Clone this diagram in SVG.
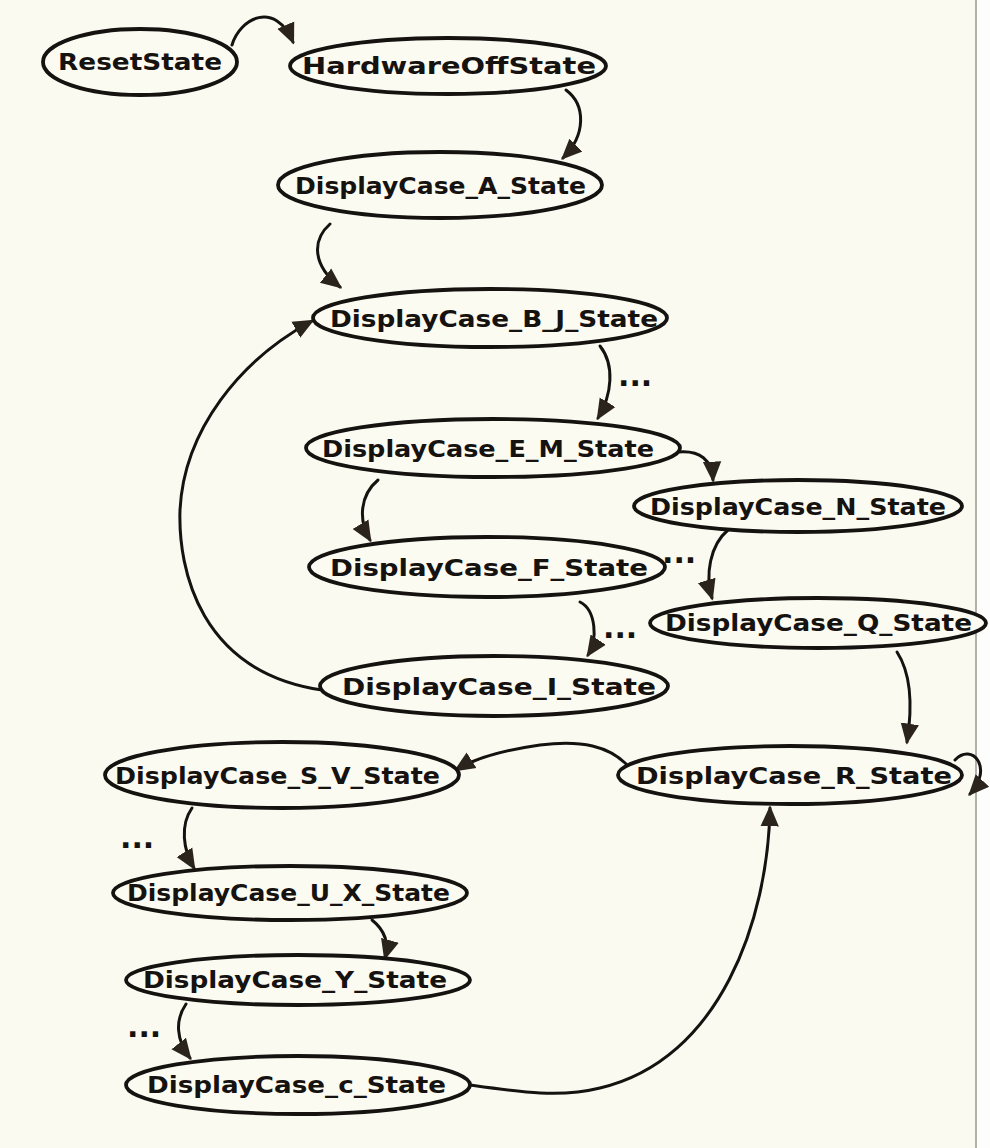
<svg xmlns="http://www.w3.org/2000/svg" width="990" height="1148" viewBox="0 0 990 1148">
<defs>
<style>
.n ellipse{fill:#fcfbf2;stroke:#151210;stroke-width:3.8}
.n text{font-family:"DejaVu Sans",sans-serif;font-weight:bold;font-size:23px;fill:#151210}
.e path{fill:none;stroke:#151210;stroke-width:3;stroke-linecap:round}
.dots{font-family:"DejaVu Sans",sans-serif;font-weight:bold;font-size:30px;fill:#151210}
</style>
<marker id="ah" viewBox="0 0 16 16" refX="14" refY="8" markerWidth="21" markerHeight="21" markerUnits="userSpaceOnUse" orient="auto">
<path d="M0,1 L16,8 L0,15 Z" fill="#2a241c"/>
</marker>
</defs>
<rect width="990" height="1148" fill="#fbfaf1"/>
<rect x="976" y="0" width="14" height="1148" fill="#fdfdfb"/>
<line x1="976" y1="0" x2="976" y2="1148" stroke="#9a978e" stroke-width="1.5"/>

<g class="e" id="connectors">
<path d="M232 45 C240 18 275 0 293 42" marker-end="url(#ah)"/>
<path d="M566 90 C586 105 586 135 563 158" marker-end="url(#ah)"/>
<path d="M330 224 C312 240 312 265 340 287" marker-end="url(#ah)"/>
<path d="M600 346 C615 365 612 395 598 418" marker-end="url(#ah)"/>
<path d="M678 452 C700 450 712 460 713 480" marker-end="url(#ah)"/>
<path d="M378 480 C360 495 358 520 370 540" marker-end="url(#ah)"/>
<path d="M728 530 C710 545 705 575 712 598" marker-end="url(#ah)"/>
<path d="M580 602 C596 610 598 640 588 655" marker-end="url(#ah)"/>
<path d="M322 690 C200 672 178 570 180 510 C184 430 240 360 312 321" marker-end="url(#ah)"/>
<path d="M897 652 C912 675 912 710 907 742" marker-end="url(#ah)"/>
<path d="M955 760 C972 742 994 768 970 794" marker-end="url(#ah)"/>
<path d="M630 768 C610 745 580 740 540 745 C505 750 475 758 456 770" marker-end="url(#ah)"/>
<path d="M192 808 C180 825 183 850 194 868" marker-end="url(#ah)"/>
<path d="M372 920 C382 928 390 940 385 958" marker-end="url(#ah)"/>
<path d="M186 1004 C175 1020 176 1040 190 1058" marker-end="url(#ah)"/>
<path d="M470 1085 C520 1092 560 1098 600 1088 C720 1060 768 920 770 808" marker-end="url(#ah)"/>
</g>

<g id="dots">
<text class="dots" x="618" y="386">...</text>
<text class="dots" x="662" y="563">...</text>
<text class="dots" x="603" y="638">...</text>
<text class="dots" x="120" y="848">...</text>
<text class="dots" x="127" y="1037">...</text>
</g>

<g class="n" id="ResetState"><ellipse cx="140" cy="62" rx="97" ry="33"/><text x="58" y="70" textLength="164" lengthAdjust="spacingAndGlyphs">ResetState</text></g>
<g class="n" id="HardwareOffState"><ellipse cx="448" cy="66" rx="158" ry="28"/><text x="302" y="74" textLength="294" lengthAdjust="spacingAndGlyphs">HardwareOffState</text></g>
<g class="n" id="DisplayCase_A_State"><ellipse cx="440" cy="185" rx="162" ry="33"/><text x="295" y="194" textLength="291" lengthAdjust="spacingAndGlyphs">DisplayCase_A_State</text></g>
<g class="n" id="DisplayCase_B_J_State"><ellipse cx="490" cy="318" rx="177" ry="29"/><text x="330" y="327" textLength="328" lengthAdjust="spacingAndGlyphs">DisplayCase_B_J_State</text></g>
<g class="n" id="DisplayCase_E_M_State"><ellipse cx="493" cy="448" rx="187" ry="29"/><text x="322" y="457" textLength="332" lengthAdjust="spacingAndGlyphs">DisplayCase_E_M_State</text></g>
<g class="n" id="DisplayCase_N_State"><ellipse cx="798" cy="506" rx="164" ry="26"/><text x="650" y="515" textLength="296" lengthAdjust="spacingAndGlyphs">DisplayCase_N_State</text></g>
<g class="n" id="DisplayCase_F_State"><ellipse cx="487" cy="567" rx="178" ry="30"/><text x="330" y="576" textLength="318" lengthAdjust="spacingAndGlyphs">DisplayCase_F_State</text></g>
<g class="n" id="DisplayCase_Q_State"><ellipse cx="818" cy="623" rx="168" ry="25"/><text x="665" y="631" textLength="307" lengthAdjust="spacingAndGlyphs">DisplayCase_Q_State</text></g>
<g class="n" id="DisplayCase_I_State"><ellipse cx="494" cy="686" rx="174" ry="30"/><text x="342" y="695" textLength="314" lengthAdjust="spacingAndGlyphs">DisplayCase_I_State</text></g>
<g class="n" id="DisplayCase_R_State"><ellipse cx="790" cy="775" rx="172" ry="29"/><text x="636" y="784" textLength="316" lengthAdjust="spacingAndGlyphs">DisplayCase_R_State</text></g>
<g class="n" id="DisplayCase_S_V_State"><ellipse cx="282" cy="775" rx="177" ry="33"/><text x="115" y="784" textLength="325" lengthAdjust="spacingAndGlyphs">DisplayCase_S_V_State</text></g>
<g class="n" id="DisplayCase_U_X_State"><ellipse cx="290" cy="893" rx="177" ry="27"/><text x="127" y="901" textLength="323" lengthAdjust="spacingAndGlyphs">DisplayCase_U_X_State</text></g>
<g class="n" id="DisplayCase_Y_State"><ellipse cx="298" cy="980" rx="172" ry="25"/><text x="143" y="988" textLength="304" lengthAdjust="spacingAndGlyphs">DisplayCase_Y_State</text></g>
<g class="n" id="DisplayCase_c_State"><ellipse cx="298" cy="1085" rx="172" ry="29"/><text x="147" y="1093" textLength="299" lengthAdjust="spacingAndGlyphs">DisplayCase_c_State</text></g>
</svg>
